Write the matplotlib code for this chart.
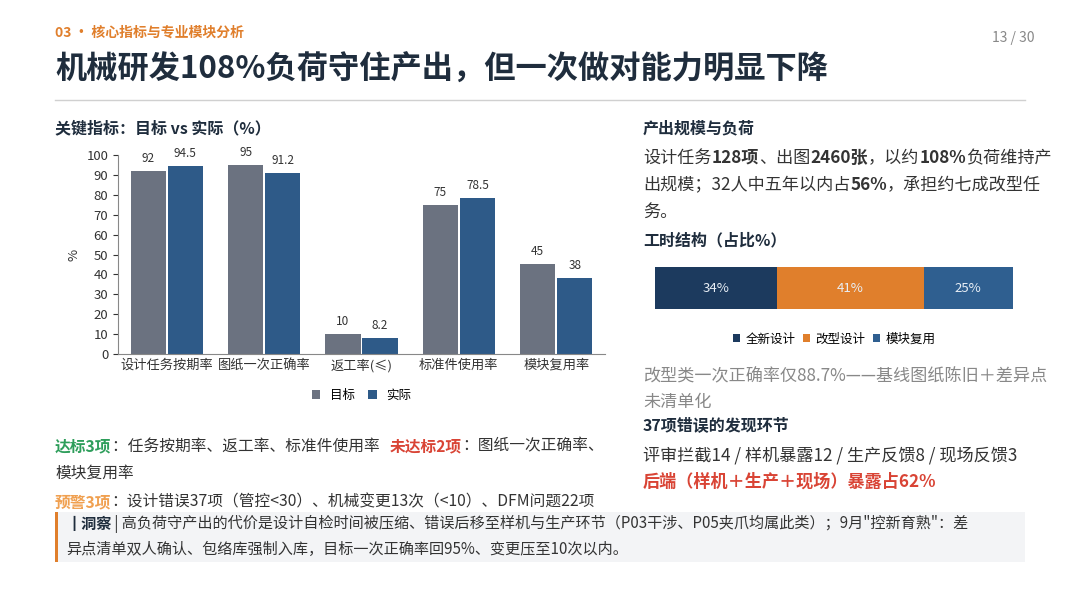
import matplotlib.pyplot as plt
from matplotlib.patches import Rectangle

plt.rcParams['font.family'] = ['Noto Sans CJK SC', 'DejaVu Sans']

# data
categories = ['设计任务按期率', '图纸一次正确率', '返工率(≤)', '标准件使用率', '模块复用率']
target = [92, 95, 10, 75, 45]
actual = [94.5, 91.2, 8.2, 78.5, 38]
hour_labels = ['全新设计', '改型设计', '模块复用']
hour_share = [34, 41, 25]

GRAY = '#6b7280'
BLUE = '#2e5a88'
NAVY = '#1c3a5e'
ORANGE = '#e07f2c'
HOUR_COLORS = [NAVY, ORANGE, '#2f5f90']
DARK = '#1f2d3d'
TEXT = '#333333'

W, H = 1080, 608
fig = plt.figure(figsize=(10.8, 6.08), dpi=100)
fig.patch.set_facecolor('white')


def fx(px):
    return px / W


def fy(py):
    return 1 - py / H


def runs(x, y, parts, size=11.5, z=2):
    # draw text pieces one after another, each with its own style
    r = fig.canvas.get_renderer()
    cx = fx(x)
    for s, weight, color in parts:
        t = fig.text(cx, fy(y), s, fontsize=size, fontweight=weight, color=color, va='center', zorder=z)
        bb = t.get_window_extent(renderer=r)
        cx += bb.width / W
    return cx


# header
fig.text(fx(55), fy(33), '03 • 核心指标与专业模块分析', fontsize=10, fontweight='bold', color=ORANGE, va='center')
fig.text(fx(1035), fy(38), '13 / 30', fontsize=10, color='#888888', va='center', ha='right')
fig.text(fx(55), fy(70), '机械研发108%负荷守住产出，但一次做对能力明显下降', fontsize=22.5, fontweight='bold', color=DARK, va='center')
fig.add_artist(plt.Line2D([fx(55), fx(1025)], [fy(100), fy(100)], color='#d0d0d0', lw=1))

# bar chart
fig.text(fx(55), fy(128), '关键指标：目标 vs 实际（%）', fontsize=11.5, fontweight='bold', color=DARK, va='center')
ax = fig.add_axes([fx(118), fy(354), fx(605 - 118), (354 - 155) / H])
x = range(len(categories))
w = 0.36
b1 = ax.bar([i - w / 2 - 0.01 for i in x], target, w, color=GRAY, label='目标')
b2 = ax.bar([i + w / 2 + 0.01 for i in x], actual, w, color=BLUE, label='实际')
for bars in (b1, b2):
    for rect in bars:
        v = rect.get_height()
        ax.text(rect.get_x() + rect.get_width() / 2, v + 3, f'{v:g}', ha='center', va='bottom', fontsize=8.5, color=TEXT)
ax.set_ylim(0, 100)
ax.set_yticks(range(0, 101, 10))
ax.set_xlim(-0.5, len(categories) - 0.5)
ax.set_xticks(list(x))
ax.set_xticklabels(categories, fontsize=9.5, color=TEXT)
ax.tick_params(axis='y', labelsize=9.5, colors=TEXT)
ax.tick_params(axis='x', length=0)
ax.set_ylabel('%', fontsize=9.5, color=TEXT)
for s in ['top', 'right']:
    ax.spines[s].set_visible(False)
for s in ['left', 'bottom']:
    ax.spines[s].set_color('#888888')
ax.legend(loc='upper center', bbox_to_anchor=(0.5, -0.12), ncol=2, frameon=False, fontsize=9,
          handlelength=0.7, handleheight=0.7, columnspacing=1)

# status lines
GREEN = '#2e9e5b'
RED = '#d94435'
runs(55, 446, [('达标3项', 'bold', GREEN), ('：任务按期率、返工率、标准件使用率   ', 'normal', TEXT),
               ('未达标2项', 'bold', RED), ('：图纸一次正确率、', 'normal', TEXT)], size=11.3)
runs(55, 473, [('模块复用率', 'normal', TEXT)], size=11.3)
runs(55, 502, [('预警3项', 'bold', '#f0a050'), ('：设计错误37项（管控<30）、机械变更13次（<10）、DFM问题22项', 'normal', TEXT)], size=11.3)

# right column
fig.text(fx(643), fy(128), '产出规模与负荷', fontsize=11.5, fontweight='bold', color=DARK, va='center')
runs(643, 158, [('设计任务', 'normal', TEXT), ('128项', 'bold', TEXT), ('、出图', 'normal', TEXT),
                ('2460张', 'bold', TEXT), ('，以约', 'normal', TEXT), ('108%', 'bold', TEXT), ('负荷维持产', 'normal', TEXT)], size=12.3)
runs(643, 185, [('出规模；32人中五年以内占', 'normal', TEXT), ('56%', 'bold', TEXT), ('，承担约七成改型任', 'normal', TEXT)], size=12.3)
runs(643, 212, [('务。', 'normal', TEXT)], size=12.3)
fig.text(fx(643), fy(240), '工时结构（占比%）', fontsize=11.5, fontweight='bold', color=DARK, va='center')

ax2 = fig.add_axes([fx(655), fy(309), fx(1013 - 655), (309 - 267) / H])
left = 0
for lab, v, c in zip(hour_labels, hour_share, HOUR_COLORS):
    ax2.barh(0, v, left=left, height=1, color=c, label=lab)
    ax2.text(left + v / 2, 0, f'{v}%', ha='center', va='center', color='#e8eef5', fontsize=9.5)
    left += v
ax2.set_xlim(0, 100)
ax2.set_ylim(-0.5, 0.5)
ax2.axis('off')
ax2.legend(loc='upper center', bbox_to_anchor=(0.5, -0.3), ncol=3, frameon=False, fontsize=9,
           handlelength=0.6, handleheight=0.6, columnspacing=0.6, handletextpad=0.4)

runs(643, 376, [('改型类一次正确率仅88.7%——基线图纸陈旧＋差异点', 'normal', '#888888')], size=12.3)
runs(643, 402, [('未清单化', 'normal', '#888888')], size=12.3)
fig.text(fx(643), fy(425), '37项错误的发现环节', fontsize=11.5, fontweight='bold', color=DARK, va='center')
runs(643, 456, [('评审拦截14 / 样机暴露12 / 生产反馈8 / 现场反馈3', 'normal', TEXT)], size=12.3)
runs(643, 482, [('后端（样机＋生产＋现场）暴露占62%', 'bold', RED)], size=12.3)

# insight box
fig.add_artist(Rectangle((fx(55), fy(562)), fx(1025 - 55), (562 - 512) / H, facecolor='#f3f4f6',
                         edgecolor='none', transform=fig.transFigure, zorder=3))
fig.add_artist(Rectangle((fx(55), fy(562)), fx(3), (562 - 512) / H, facecolor=ORANGE,
                         edgecolor='none', transform=fig.transFigure, zorder=4))
runs(66, 524, [('┃洞察', 'bold', DARK),
               (' | 高负荷守产出的代价是设计自检时间被压缩、错误后移至样机与生产环节（P03干涉、P05夹爪均属此类）；9月"控新育熟"：差', 'normal', TEXT)],
     size=10.9, z=5)
runs(66, 549, [('异点清单双人确认、包络库强制入库，目标一次正确率回95%、变更压至10次以内。', 'normal', TEXT)], size=10.9, z=5)

fig.savefig('out.png', dpi=100)
